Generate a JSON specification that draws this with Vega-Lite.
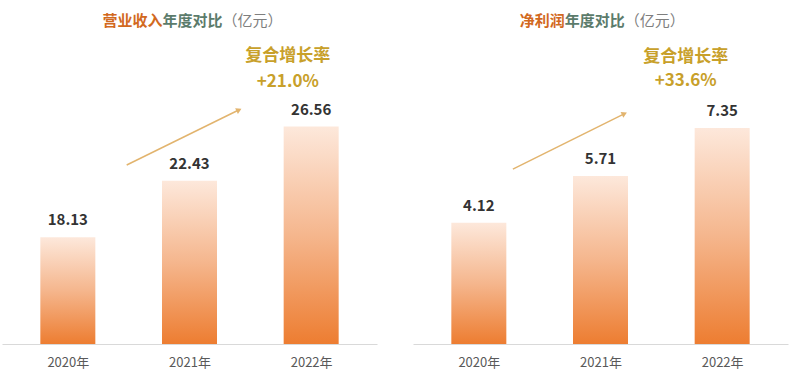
{
  "$schema": "https://vega.github.io/schema/vega-lite/v6.json",
  "background": "white",
  "padding": {"left": 2, "top": 0, "right": 5, "bottom": 5},
  "spacing": 36,
  "bounds": "flush",
  "config": {"view": {"stroke": null}, "font": "Noto Sans CJK SC"},
  "datasets": {
    "rev": [{"year": 2020, "value": 18.13}, {"year": 2021, "value": 22.43}, {"year": 2022, "value": 26.56}],
    "profit": [{"year": 2020, "value": 4.12}, {"year": 2021, "value": 5.71}, {"year": 2022, "value": 7.35}],
    "one": [{}]
  },
  "hconcat": [
    {
      "width": 375,
      "height": 344,
      "layer": [
        {
          "data": {"name": "rev"},
          "mark": {"type": "bar", "orient": "vertical", "width": 55,
            "color": {"gradient": "linear", "x1": 0, "y1": 0, "x2": 0, "y2": 1,
              "stops": [{"offset": 0, "color": "#fde8db"}, {"offset": 0.5, "color": "#f5b68d"}, {"offset": 1, "color": "#ed7d31"}]}},
          "encoding": {
            "x": {"field": "year", "type": "quantitative", "scale": {"domain": [2019.5, 2022.5], "nice": false, "zero": false},
              "axis": {"values": [2020, 2021, 2022], "labelExpr": "datum.value + '年'", "ticks": false, "grid": false, "domainColor": "#d9d9d9", "labelColor": "#595959", "labelFontSize": 13, "labelPadding": 12, "title": null, "labelFlush": false, "labelOverlap": false}},
            "y": {"field": "value", "type": "quantitative", "scale": {"domain": [10, 36.2], "nice": false, "zero": false}, "axis": null},
            "y2": {"datum": 10}
          }
        },
        {
          "data": {"name": "rev"},
          "mark": {"type": "text", "dy": -12, "baseline": "alphabetic", "fontSize": 15, "fontWeight": "bold", "color": "#333333"},
          "encoding": {
            "x": {"field": "year", "type": "quantitative"},
            "y": {"field": "value", "type": "quantitative"},
            "text": {"field": "value", "type": "quantitative", "format": ".2f"}
          }
        },
        {
          "data": {"name": "one"},
          "mark": {"type": "rule", "color": "#e2b46e", "strokeWidth": 1.5},
          "encoding": {"x": {"datum": 2020.484, "type": "quantitative"}, "x2": {"datum": 2021.40}, "y": {"datum": 23.63, "type": "quantitative"}, "y2": {"datum": 27.8}}
        },
        {
          "data": {"name": "one"},
          "mark": {"type": "point", "shape": "triangle", "angle": 64, "size": 40, "filled": true, "opacity": 1, "color": "#e2b46e"},
          "encoding": {"x": {"datum": 2021.40, "type": "quantitative"}, "y": {"datum": 27.8, "type": "quantitative"}}
        },
        {
          "data": {"name": "one"},
          "mark": {"type": "text", "align": "left", "baseline": "alphabetic", "fontSize": 15, "fontWeight": "bold", "color": "#d2691e", "text": "营业收入"},
          "encoding": {"x": {"datum": 2020.284, "type": "quantitative"}, "y": {"datum": 34.2, "type": "quantitative"}}
        },
        {
          "data": {"name": "one"},
          "mark": {"type": "text", "align": "left", "dx": 60, "baseline": "alphabetic", "fontSize": 15, "fontWeight": "bold", "color": "#5b7b6b", "text": "年度对比"},
          "encoding": {"x": {"datum": 2020.284, "type": "quantitative"}, "y": {"datum": 34.2, "type": "quantitative"}}
        },
        {
          "data": {"name": "one"},
          "mark": {"type": "text", "align": "left", "dx": 120, "baseline": "alphabetic", "fontSize": 15, "color": "#7f7f7f", "text": "（亿元）"},
          "encoding": {"x": {"datum": 2020.284, "type": "quantitative"}, "y": {"datum": 34.2, "type": "quantitative"}}
        },
        {
          "data": {"name": "one"},
          "mark": {"type": "text", "align": "center", "baseline": "alphabetic", "fontSize": 17, "fontWeight": "bold", "color": "#c8a02a", "text": "复合增长率"},
          "encoding": {"x": {"datum": 2021.808, "type": "quantitative"}, "y": {"datum": 31.55, "type": "quantitative"}}
        },
        {
          "data": {"name": "one"},
          "mark": {"type": "text", "align": "center", "baseline": "alphabetic", "fontSize": 17, "fontWeight": "bold", "color": "#c8a02a", "text": "+21.0%"},
          "encoding": {"x": {"datum": 2021.808, "type": "quantitative"}, "y": {"datum": 29.6, "type": "quantitative"}}
        }
      ]
    },
    {
      "width": 375,
      "height": 344,
      "layer": [
        {
          "data": {"name": "profit"},
          "mark": {"type": "bar", "orient": "vertical", "width": 55,
            "color": {"gradient": "linear", "x1": 0, "y1": 0, "x2": 0, "y2": 1,
              "stops": [{"offset": 0, "color": "#fde8db"}, {"offset": 0.5, "color": "#f5b68d"}, {"offset": 1, "color": "#ed7d31"}]}},
          "encoding": {
            "x": {"field": "year", "type": "quantitative", "scale": {"domain": [2019.5, 2022.5], "nice": false, "zero": false},
              "axis": {"values": [2020, 2021, 2022], "labelExpr": "datum.value + '年'", "ticks": false, "grid": false, "domainColor": "#d9d9d9", "labelColor": "#595959", "labelFontSize": 13, "labelPadding": 12, "title": null, "labelFlush": false, "labelOverlap": false}},
            "y": {"field": "value", "type": "quantitative", "scale": {"domain": [0, 11.7], "nice": false, "zero": false}, "axis": null},
            "y2": {"datum": 0}
          }
        },
        {
          "data": {"name": "profit"},
          "mark": {"type": "text", "dy": -12, "baseline": "alphabetic", "fontSize": 15, "fontWeight": "bold", "color": "#333333"},
          "encoding": {
            "x": {"field": "year", "type": "quantitative"},
            "y": {"field": "value", "type": "quantitative"},
            "text": {"field": "value", "type": "quantitative", "format": ".2f"}
          }
        },
        {
          "data": {"name": "one"},
          "mark": {"type": "rule", "color": "#e2b46e", "strokeWidth": 1.5},
          "encoding": {"x": {"datum": 2020.28, "type": "quantitative"}, "x2": {"datum": 2021.19}, "y": {"datum": 5.95, "type": "quantitative"}, "y2": {"datum": 7.82}}
        },
        {
          "data": {"name": "one"},
          "mark": {"type": "point", "shape": "triangle", "angle": 64, "size": 40, "filled": true, "opacity": 1, "color": "#e2b46e"},
          "encoding": {"x": {"datum": 2021.19, "type": "quantitative"}, "y": {"datum": 7.82, "type": "quantitative"}}
        },
        {
          "data": {"name": "one"},
          "mark": {"type": "text", "align": "left", "baseline": "alphabetic", "fontSize": 15, "fontWeight": "bold", "color": "#d2691e", "text": "净利润"},
          "encoding": {"x": {"datum": 2020.336, "type": "quantitative"}, "y": {"datum": 10.82, "type": "quantitative"}}
        },
        {
          "data": {"name": "one"},
          "mark": {"type": "text", "align": "left", "dx": 45, "baseline": "alphabetic", "fontSize": 15, "fontWeight": "bold", "color": "#5b7b6b", "text": "年度对比"},
          "encoding": {"x": {"datum": 2020.336, "type": "quantitative"}, "y": {"datum": 10.82, "type": "quantitative"}}
        },
        {
          "data": {"name": "one"},
          "mark": {"type": "text", "align": "left", "dx": 105, "baseline": "alphabetic", "fontSize": 15, "color": "#7f7f7f", "text": "（亿元）"},
          "encoding": {"x": {"datum": 2020.336, "type": "quantitative"}, "y": {"datum": 10.82, "type": "quantitative"}}
        },
        {
          "data": {"name": "one"},
          "mark": {"type": "text", "align": "center", "baseline": "alphabetic", "fontSize": 17, "fontWeight": "bold", "color": "#c8a02a", "text": "复合增长率"},
          "encoding": {"x": {"datum": 2021.7, "type": "quantitative"}, "y": {"datum": 9.6, "type": "quantitative"}}
        },
        {
          "data": {"name": "one"},
          "mark": {"type": "text", "align": "center", "baseline": "alphabetic", "fontSize": 17, "fontWeight": "bold", "color": "#c8a02a", "text": "+33.6%"},
          "encoding": {"x": {"datum": 2021.7, "type": "quantitative"}, "y": {"datum": 8.79, "type": "quantitative"}}
        }
      ]
    }
  ]
}
